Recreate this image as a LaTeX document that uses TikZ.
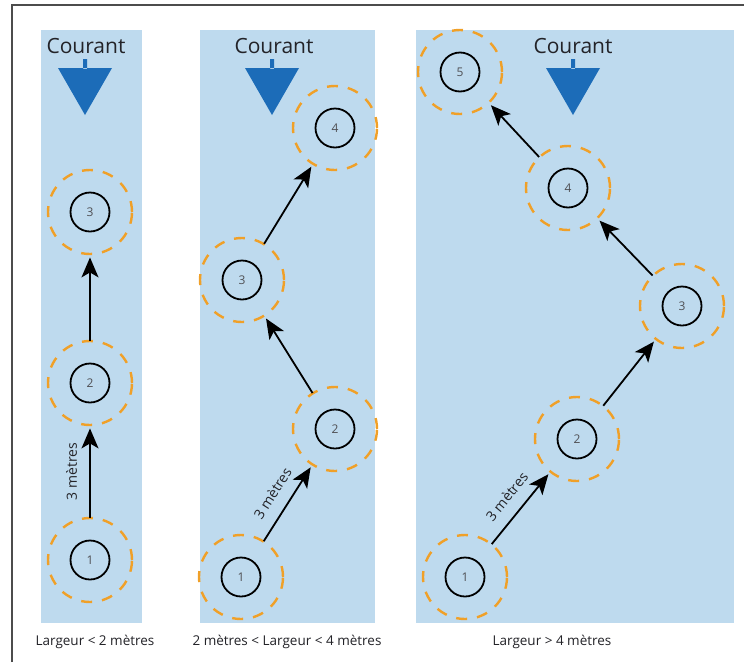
\documentclass[tikz,border=0pt]{standalone}
\usepackage{fontspec}
\setmainfont{Open Sans}
\usetikzlibrary{arrows.meta}
\definecolor{water}{RGB}{190,218,238}
\definecolor{flow}{RGB}{28,108,184}
\definecolor{ringc}{RGB}{240,160,40}
\definecolor{txt}{RGB}{35,35,40}
\tikzset{
  panel/.style={fill=water, draw=none},
  ringline/.style={draw=ringc, line width=2.4pt, dash pattern=on 11pt off 10pt},
  buoy/.style={circle, draw=black, line width=1.8pt, minimum size=39pt, inner sep=0pt, font=\fontsize{12}{12}\selectfont, text=txt!80},
  arr/.style={line width=1.8pt, -{Stealth[length=20pt,width=17pt,inset=5pt]}, shorten <=22pt, shorten >=25pt},
  head/.style={font=\fontsize{21}{21}\selectfont, text=txt},
  foot/.style={font=\fontsize{13.5}{13.5}\selectfont, text=txt},
  dist/.style={font=\fontsize{14}{14}\selectfont, text=txt, sloped, above, inner sep=12pt},
  arrowflow/.style={fill=flow, draw=none}
}
\begin{document}
\begin{tikzpicture}[x=1pt,y=-1pt]
\useasboundingbox (0,0) rectangle (744,662);
\fill[white] (0,0) rectangle (744,662);
% frame
\draw[line width=2.6pt, gray!60!black] (12,662) -- (12,5) -- (744,5);
% panels
\fill[panel] (41,30) rectangle (142,623);
\fill[panel] (200,30) rectangle (375,623);
\fill[panel] (416,30) rectangle (734,623);
% current headings
\node[head] (h1) at (86,46) {Courant};
\node[head] (h2) at (274,46) {Courant};
\node[head] (h3) at (573,46) {Courant};
\fill[arrowflow] (83,59) rectangle (87,69) (58,68) -- (112,68) -- (85,115) -- cycle;
\fill[arrowflow] (270,59) rectangle (274,69) (245,68) -- (299,68) -- (272,115) -- cycle;
\fill[arrowflow] (571,59) rectangle (575,69) (546,68) -- (600,68) -- (573,115) -- cycle;
% panel 1
\node[buoy] (a1) at (90,560) {1};
\node[buoy] (a2) at (90,383) {2};
\node[buoy] (a3) at (90,212) {3};
\foreach \n in {a1,a2,a3} \draw[ringline] (\n.center) circle (42pt);
\draw[arr] (a1) -- node[dist] {3 mètres} (a2);
\draw[arr] (a2) -- (a3);
% panel 2
\node[buoy] (b1) at (241,577) {1};
\node[buoy] (b2) at (335,429) {2};
\node[buoy] (b3) at (242,280) {3};
\node[buoy] (b4) at (335,128) {4};
\foreach \n in {b1,b2,b3,b4} \draw[ringline] (\n.center) circle (42pt);
\draw[arr] (b1) -- node[dist] {3 mètres} (b2);
\draw[arr] (b2) -- (b3);
\draw[arr] (b3) -- (b4);
% panel 3
\node[buoy] (c1) at (465,577) {1};
\node[buoy] (c2) at (577,439) {2};
\node[buoy] (c3) at (682,306) {3};
\node[buoy] (c4) at (568,188) {4};
\node[buoy] (c5) at (460,72) {5};
\foreach \n in {c1,c2,c3,c4,c5} \draw[ringline] (\n.center) circle (42pt);
\draw[arr] (c1) -- node[dist] {3 mètres} (c2);
\draw[arr] (c2) -- (c3);
\draw[arr] (c3) -- (c4);
\draw[arr] (c4) -- (c5);
% captions
\node[foot] (f1) at (95,642) {Largeur < 2 mètres};
\node[foot] (f2) at (287,642) {2 mètres < Largeur < 4 mètres};
\node[foot] (f3) at (552,642) {Largeur > 4 mètres};
\end{tikzpicture}
\end{document}
